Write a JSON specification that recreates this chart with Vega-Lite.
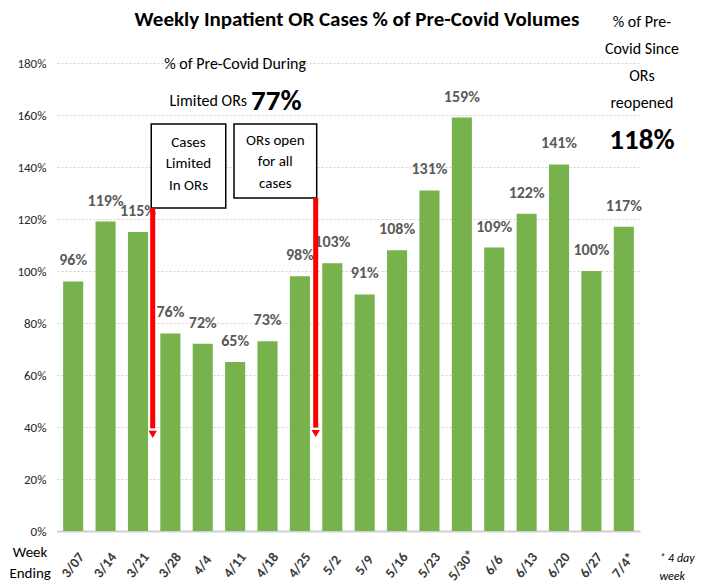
{
  "$schema": "https://vega.github.io/schema/vega-lite/v6.json",
  "width": 583,
  "height": 468,
  "autosize": {"type": "none"},
  "padding": {"left": 57, "top": 63, "right": 65, "bottom": 51},
  "background": "white",
  "config": {
    "view": {"stroke": null},
    "font": "Carlito, 'DejaVu Sans Condensed', Lato",
    "text": {"font": "Carlito, 'DejaVu Sans Condensed', Lato"}
  },
  "encoding": {
    "y": {"field": "y", "type": "quantitative", "scale": {"domain": [0, 1.8], "nice": false}, "title": null,
      "axis": {"format": ".0%", "values": [0, 0.2, 0.4, 0.6, 0.8, 1.0, 1.2, 1.4, 1.6, 1.8], "domain": false, "ticks": false, "labelFont": "Carlito, 'DejaVu Sans Condensed', Lato", "labelFontSize": 13, "labelColor": "#262626", "labelPadding": 11, "gridColor": "#d0d0d0", "gridDash": [2, 2], "gridWidth": 1}}
  },
  "layer": [
    {
      "data": {"values": [
        {"week": "3/07", "y": 0.96}, {"week": "3/14", "y": 1.19}, {"week": "3/21", "y": 1.15},
        {"week": "3/28", "y": 0.76}, {"week": "4/4", "y": 0.72}, {"week": "4/11", "y": 0.65},
        {"week": "4/18", "y": 0.73}, {"week": "4/25", "y": 0.98}, {"week": "5/2", "y": 1.03},
        {"week": "5/9", "y": 0.91}, {"week": "5/16", "y": 1.08}, {"week": "5/23", "y": 1.31},
        {"week": "5/30*", "y": 1.59}, {"week": "6/6", "y": 1.09}, {"week": "6/13", "y": 1.22},
        {"week": "6/20", "y": 1.41}, {"week": "6/27", "y": 1.00}, {"week": "7/4*", "y": 1.17}
      ]},
      "encoding": {
        "x": {"field": "week", "type": "nominal", "sort": null, "title": null,
          "scale": {"paddingInner": 0.38, "paddingOuter": 0.19},
          "axis": {"labelAngle": -52, "labelAlign": "center", "labelBaseline": "middle", "labelPadding": 34, "ticks": false, "domain": true, "domainColor": "#d0d0d0", "domainWidth": 2, "labelFont": "Carlito, 'DejaVu Sans Condensed', Lato", "labelFontSize": 14, "labelFontWeight": "bold", "labelColor": "#3a3a3a"}}
      },
      "layer": [
        {"mark": {"type": "bar", "color": "#77b24d"}},
        {"mark": {"type": "text", "baseline": "middle", "dy": -21, "fontSize": 16, "fontWeight": "bold", "color": "#595959"},
          "encoding": {"text": {"field": "y", "type": "quantitative", "format": ".0%"}}}
      ]
    },
    {
      "data": {"values": [
        {"x": 2.41, "x2": 4.71, "y": 1.565, "y2": 1.242},
        {"x": 4.965, "x2": 7.518, "y": 1.565, "y2": 1.281}
      ]},
      "mark": {"type": "rect", "fill": "white", "stroke": "#000000", "strokeWidth": 1.5},
      "encoding": {
        "x": {"field": "x", "type": "quantitative", "scale": {"domain": [-0.5, 17.5], "nice": false, "zero": false}, "axis": null},
        "x2": {"field": "x2"},
        "y2": {"field": "y2"}
      }
    },
    {
      "data": {"values": [
        {"x": 3.56, "y": 1.497, "t": "Cases\nLimited\nIn ORs"},
        {"x": 6.24, "y": 1.504, "t": "ORs open\nfor all\ncases"}
      ]},
      "mark": {"type": "text", "lineBreak": "\n", "lineHeight": 21.5, "fontSize": 15, "color": "#000000", "baseline": "middle", "align": "center"},
      "encoding": {
        "x": {"field": "x", "type": "quantitative", "scale": {"domain": [-0.5, 17.5], "nice": false, "zero": false}, "axis": null},
        "text": {"field": "t"}
      }
    },
    {
      "data": {"values": [
        {"x": 2.455, "y": 1.242, "y2": 0.395, "yh": 0.372},
        {"x": 7.487, "y": 1.281, "y2": 0.398, "yh": 0.375}
      ]},
      "layer": [
        {"mark": {"type": "rule", "color": "#ff0000", "strokeWidth": 5},
          "encoding": {
            "x": {"field": "x", "type": "quantitative", "scale": {"domain": [-0.5, 17.5], "nice": false, "zero": false}, "axis": null},
            "y2": {"field": "y2"}
          }},
        {"mark": {"type": "point", "shape": "triangle-down", "filled": true, "color": "#ff0000", "size": 70, "opacity": 1},
          "encoding": {
            "x": {"field": "x", "type": "quantitative", "scale": {"domain": [-0.5, 17.5], "nice": false, "zero": false}, "axis": null},
            "y": {"field": "yh", "type": "quantitative", "scale": {"domain": [0, 1.8], "nice": false}}
          }}
      ]
    },
    {
      "data": {"values": [
        {"x": 8.76, "y": 1.965, "t": "Weekly Inpatient OR Cases % of Pre-Covid Volumes"}
      ]},
      "mark": {"type": "text", "fontSize": 21, "fontWeight": "bold", "color": "#000000", "baseline": "middle", "align": "center"},
      "encoding": {
        "x": {"field": "x", "type": "quantitative", "scale": {"domain": [-0.5, 17.5], "nice": false, "zero": false}, "axis": null},
        "text": {"field": "t"}
      }
    },
    {
      "data": {"values": [
        {"x": 5.0, "y": 1.796, "t": "% of Pre-Covid During"},
        {"x": 5.37, "y": 1.654, "t": "Limited ORs"}
      ]},
      "mark": {"type": "text", "fontSize": 16, "color": "#000000", "baseline": "middle", "align": {"expr": "datum.t == 'Limited ORs' ? 'right' : 'center'"}},
      "encoding": {
        "x": {"field": "x", "type": "quantitative", "scale": {"domain": [-0.5, 17.5], "nice": false, "zero": false}, "axis": null},
        "text": {"field": "t"}
      }
    },
    {
      "data": {"values": [
        {"x": 5.49, "y": 1.654, "t": "77%"},
        {"x": 17.56, "y": 1.504, "t": "118%"}
      ]},
      "mark": {"type": "text", "fontSize": 29, "fontWeight": "bold", "color": "#000000", "baseline": "middle", "align": {"expr": "datum.t == '77%' ? 'left' : 'center'"}},
      "encoding": {
        "x": {"field": "x", "type": "quantitative", "scale": {"domain": [-0.5, 17.5], "nice": false, "zero": false}, "axis": null},
        "text": {"field": "t"}
      }
    },
    {
      "data": {"values": [
        {"x": 17.56, "y": 1.958, "t": "% of Pre-\nCovid Since\nORs\nreopened"}
      ]},
      "mark": {"type": "text", "fontSize": 16, "color": "#000000", "baseline": "middle", "align": "center", "lineBreak": "\n", "lineHeight": 27},
      "encoding": {
        "x": {"field": "x", "type": "quantitative", "scale": {"domain": [-0.5, 17.5], "nice": false, "zero": false}, "axis": null},
        "text": {"field": "t"}
      }
    },
    {
      "data": {"values": [
        {"x": -1.33, "y": -0.082, "t": "Week\nEnding"}
      ]},
      "mark": {"type": "text", "fontSize": 15, "color": "#000000", "baseline": "middle", "align": "center", "lineBreak": "\n", "lineHeight": 21},
      "encoding": {
        "x": {"field": "x", "type": "quantitative", "scale": {"domain": [-0.5, 17.5], "nice": false, "zero": false}, "axis": null},
        "text": {"field": "t"}
      }
    },
    {
      "data": {"values": [
        {"x": 18.1, "y": -0.104, "t": "* 4 day\nweek"}
      ]},
      "mark": {"type": "text", "fontSize": 12, "fontStyle": "italic", "color": "#000000", "baseline": "middle", "align": "left", "lineBreak": "\n", "lineHeight": 18},
      "encoding": {
        "x": {"field": "x", "type": "quantitative", "scale": {"domain": [-0.5, 17.5], "nice": false, "zero": false}, "axis": null},
        "text": {"field": "t"}
      }
    }
  ],
  "resolve": {"scale": {"x": "independent"}}
}
